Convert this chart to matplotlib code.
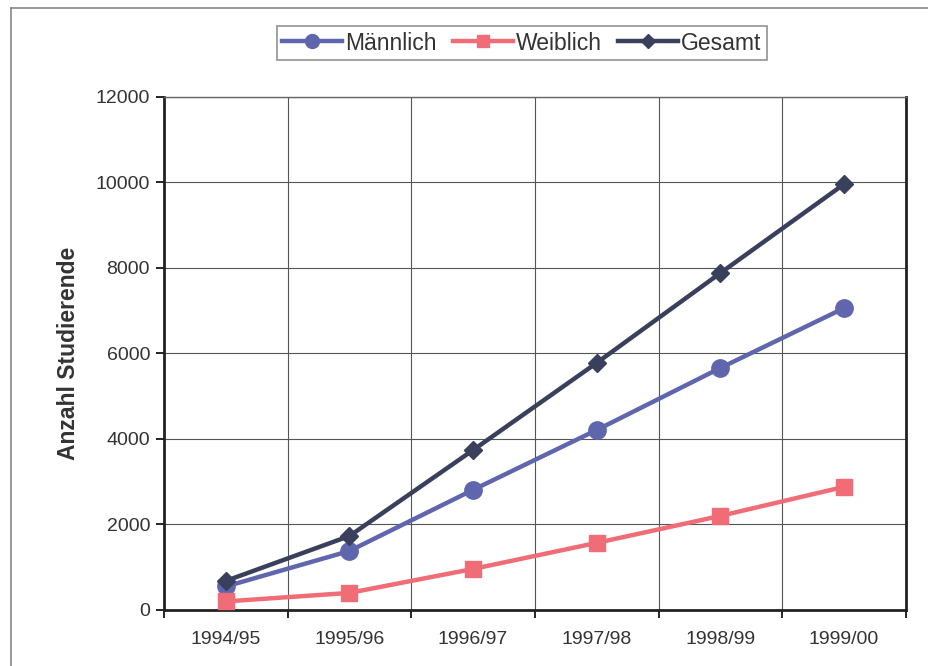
import matplotlib
matplotlib.use("Agg")
import matplotlib.pyplot as plt
from matplotlib.lines import Line2D

years = ["1994/95", "1995/96", "1996/97", "1997/98", "1998/99", "1999/00"]
maennlich = [550, 1380, 2810, 4210, 5660, 7060]
weiblich = [200, 400, 960, 1570, 2200, 2880]
gesamt = [680, 1730, 3740, 5780, 7880, 9960]

plt.rcParams['font.family'] = ['Liberation Sans', 'DejaVu Sans']

fig = plt.figure(figsize=(9.29, 6.66), dpi=100)
ax = fig.add_axes([0.1765, 0.0841, 0.7985, 0.7703])

x = list(range(len(years)))
ax.plot(x, maennlich, color='#5F66AE', lw=3.2, marker='o', ms=12.5, label='Männlich', zorder=3)
ax.plot(x, weiblich, color='#F06C76', lw=3.2, marker='s', ms=11.5, label='Weiblich', zorder=3)
ax.plot(x, gesamt, color='#3A3F5C', lw=3.2, marker='D', ms=9.5, label='Gesamt', zorder=4)

ax.set_xlim(-0.5, len(years) - 0.5)
ax.set_ylim(0, 12000)
ax.set_yticks(range(0, 12001, 2000))
ax.set_xticks(x)
ax.set_xticklabels(years, fontsize=14, color='#333333')
ax.set_xticks([i - 0.5 for i in range(len(years) + 1)], minor=True)
ax.tick_params(axis='x', which='major', length=0, pad=15)
ax.tick_params(axis='x', which='minor', length=6, width=1.2, direction='out')
ax.tick_params(axis='y', labelsize=14, labelcolor='#333333', length=6, width=1.2,
               direction='out', pad=4)
ax.grid(True, axis='y', color='#555555', lw=0.8)
ax.grid(True, axis='x', which='minor', color='#555555', lw=0.8)
ax.set_axisbelow(True)

for s in ['left', 'bottom', 'right']:
    ax.spines[s].set_linewidth(2)
    ax.spines[s].set_color('#222222')
ax.spines['top'].set_linewidth(1)
ax.spines['top'].set_color('#666666')

ax.set_ylabel('Anzahl Studierende', fontsize=16.5, fontweight='bold',
              color='#333333', labelpad=11)

leg = fig.legend(loc='center', bbox_to_anchor=(522/929, 1 - 43/666), ncol=3,
                 fontsize=16.5, frameon=True, fancybox=False, edgecolor='#777777',
                 handlelength=2.6, handletextpad=0.15, columnspacing=0.7,
                 borderpad=0.25, markerscale=0.8)
leg.get_frame().set_linewidth(1.2)
for t in leg.get_texts():
    t.set_color('#333333')

# outer border (left and top edges visible in the reference)
fig.add_artist(Line2D([11/929, 11/929], [0, 1 - 8/666], transform=fig.transFigure,
                      color='#888888', lw=1.2))
fig.add_artist(Line2D([11/929, 1], [1 - 8/666, 1 - 8/666], transform=fig.transFigure,
                      color='#888888', lw=1.2))

fig.savefig('out.png', dpi=100)
